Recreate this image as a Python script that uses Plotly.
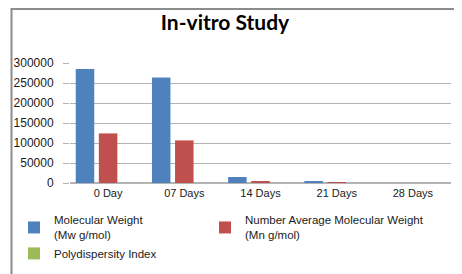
import plotly.graph_objects as go

categories = ["0 Day", "07 Days", "14 Days", "21 Days", "28 Days"]
mw_values = [285000, 264000, 15000, 3200, 0]
mn_values = [124000, 106500, 3000, 800, 0]
pdi_values = [2.3, 2.5, 5.0, 4.0, 0]
y_ticks = [0, 50000, 100000, 150000, 200000, 250000, 300000]

FONT = "Liberation Sans"
TXT = "#1a1a1a"
GRID = "#b4b4b4"

fig = go.Figure()
fig.add_bar(x=categories, y=mw_values, name="Molecular Weight<br>(Mw g/mol)",
            marker=dict(color="#4F81BD", line=dict(width=0)),
            legend="legend", legendgroup="mw")
fig.add_bar(x=categories, y=mn_values, name="Number Average Molecular Weight<br>(Mn g/mol)",
            marker=dict(color="#C0504D", line=dict(width=0)),
            legend="legend2", legendgroup="mn")
fig.add_bar(x=categories, y=pdi_values, name="Polydispersity Index",
            marker=dict(color="#9BBB59", line=dict(width=0)),
            legend="legend", legendgroup="pdi")

L, R, T, B = 62, 19, 55, 99
W, H = 462, 274
pw, ph = W - L - R, H - T - B

def px2x(p):
    return (p - L) / pw

def py2y(p):
    return (H - B - p) / ph

legend_common = dict(orientation="v", yanchor="top", xanchor="left",
                     itemwidth=30, tracegroupgap=14,
                     font=dict(family=FONT, size=11.5, color=TXT),
                     bgcolor="rgba(0,0,0,0)", traceorder="normal")

fig.update_layout(
    width=W, height=H,
    margin=dict(l=L, r=R, t=T, b=B, pad=0, autoexpand=False),
    paper_bgcolor="white", plot_bgcolor="white",
    barmode="group", bargap=0.09, bargroupgap=0.2,
    title=dict(text="<b>In-vitro Study</b>", x=217 / W, xanchor="center",
               y=1 - 15 / H, yanchor="middle",
               font=dict(family="Lato", size=21, color="#000000")),
    font=dict(family=FONT, size=11, color=TXT),
    xaxis=dict(showgrid=False, showline=True, linecolor=GRID, linewidth=1,
               ticks="", tickfont=dict(family=FONT, size=11, color=TXT),
               fixedrange=True),
    yaxis=dict(range=[0, 300000], tickvals=y_ticks,
               ticktext=[str(v) for v in y_ticks],
               showgrid=True, gridcolor=GRID, gridwidth=1,
               zeroline=True, zerolinecolor=GRID,
               ticks="outside", ticklen=6, tickcolor=GRID,
               tickfont=dict(family=FONT, size=12, color=TXT),
               ticklabelstandoff=7, fixedrange=True),
    legend=dict(x=px2x(6), y=py2y(198), **legend_common),
    legend2=dict(x=px2x(197), y=py2y(198), **legend_common),
    showlegend=True,
    shapes=[
        dict(type="rect", xref="paper", yref="paper",
             x0=px2x(3.5), x1=px2x(455), y0=py2y(272), y1=py2y(1),
             line=dict(color="#8c8c8c", width=2), fillcolor="rgba(0,0,0,0)",
             layer="below"),
        dict(type="line", xref="paper", yref="paper",
             x0=px2x(457), x1=px2x(457), y0=py2y(274), y1=py2y(3),
             line=dict(color="#b8b8b8", width=2)),
        dict(type="line", xref="paper", yref="paper",
             x0=px2x(5), x1=px2x(458), y0=py2y(273.5), y1=py2y(273.5),
             line=dict(color="#b8b8b8", width=2)),
    ],
)

fig.write_html("out.html")
